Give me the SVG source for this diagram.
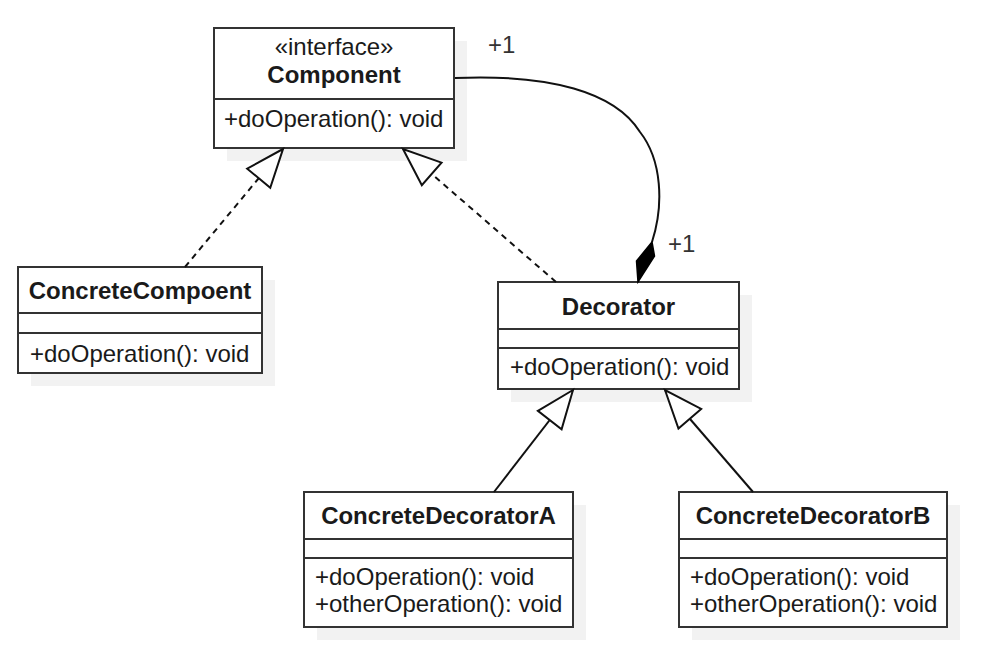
<svg xmlns="http://www.w3.org/2000/svg" width="996" height="659" viewBox="0 0 996 659">
  <style>
    .shadow { fill: #f2f2f2; stroke: none; }
    .box { fill: #ffffff; stroke: #333333; stroke-width: 2; }
    .sep { stroke: #333333; stroke-width: 2; fill: none; }
    .title { font-family: "Liberation Sans", Arial, sans-serif; font-size: 24px; font-weight: bold; fill: #1a1a1a; text-anchor: middle; }
    .stereo { font-family: "Liberation Sans", Arial, sans-serif; font-size: 24px; fill: #1a1a1a; text-anchor: middle; }
    .member { font-family: "Liberation Sans", Arial, sans-serif; font-size: 24px; fill: #1a1a1a; }
    .mult { font-family: "Liberation Sans", Arial, sans-serif; font-size: 24px; fill: #333333; }
    .edge { fill: none; stroke: #111111; stroke-width: 2; }
    .dashed { stroke-dasharray: 6 5; }
  </style>
  <defs>
    <!-- hollow triangle head for realization / generalization -->
    <marker id="hollowTri" viewBox="-42 -20 46 40" markerWidth="46" markerHeight="40" refX="0" refY="0" orient="auto" markerUnits="userSpaceOnUse">
      <path d="M0,0 L-38,-15 L-38,15 Z" fill="#ffffff" stroke="#111111" stroke-width="2" stroke-dasharray="none" stroke-linejoin="miter"/>
    </marker>
  </defs>

  <rect width="996" height="659" fill="#ffffff"/>

  <!-- Component (interface) -->
  <g id="component">
    <rect class="shadow" x="227" y="41" width="240" height="120"/>
    <rect class="box" x="214" y="28" width="240" height="120"/>
    <line class="sep" x1="214" y1="99" x2="454" y2="99"/>
    <text class="stereo" x="334" y="55">«interface»</text>
    <text class="title" x="334" y="83">Component</text>
    <text class="member" x="224" y="127">+doOperation(): void</text>
  </g>

  <!-- ConcreteCompoent -->
  <g id="concrete-component">
    <rect class="shadow" x="31" y="280" width="244" height="106"/>
    <rect class="box" x="18" y="267" width="244" height="106"/>
    <line class="sep" x1="18" y1="313" x2="262" y2="313"/>
    <line class="sep" x1="18" y1="333" x2="262" y2="333"/>
    <text class="title" x="140" y="299">ConcreteCompoent</text>
    <text class="member" x="30" y="362">+doOperation(): void</text>
  </g>

  <!-- Decorator -->
  <g id="decorator">
    <rect class="shadow" x="511" y="295" width="241" height="107"/>
    <rect class="box" x="498" y="282" width="241" height="107"/>
    <line class="sep" x1="498" y1="329" x2="739" y2="329"/>
    <line class="sep" x1="498" y1="348" x2="739" y2="348"/>
    <text class="title" x="618.5" y="315">Decorator</text>
    <text class="member" x="510" y="375">+doOperation(): void</text>
  </g>

  <!-- ConcreteDecoratorA -->
  <g id="concrete-decorator-a">
    <rect class="shadow" x="317" y="505" width="269" height="135"/>
    <rect class="box" x="304" y="492" width="269" height="135"/>
    <line class="sep" x1="304" y1="539" x2="573" y2="539"/>
    <line class="sep" x1="304" y1="558" x2="573" y2="558"/>
    <text class="title" x="438.5" y="524">ConcreteDecoratorA</text>
    <text class="member" x="315" y="585">+doOperation(): void</text>
    <text class="member" x="315" y="612">+otherOperation(): void</text>
  </g>

  <!-- ConcreteDecoratorB -->
  <g id="concrete-decorator-b">
    <rect class="shadow" x="692" y="505" width="268" height="135"/>
    <rect class="box" x="679" y="492" width="268" height="135"/>
    <line class="sep" x1="679" y1="539" x2="947" y2="539"/>
    <line class="sep" x1="679" y1="558" x2="947" y2="558"/>
    <text class="title" x="813" y="524">ConcreteDecoratorB</text>
    <text class="member" x="690" y="585">+doOperation(): void</text>
    <text class="member" x="690" y="612">+otherOperation(): void</text>
  </g>

  <!-- Connectors -->
  <g id="connectors">
    <!-- realizations of Component -->
    <path class="edge dashed" d="M185,267 L283,149" marker-end="url(#hollowTri)"/>
    <path class="edge dashed" d="M556,282 L403,149" marker-end="url(#hollowTri)"/>
    <!-- generalizations of Decorator -->
    <path class="edge" d="M494,492 L573,390" marker-end="url(#hollowTri)"/>
    <path class="edge" d="M753,492 L665,390" marker-end="url(#hollowTri)"/>
    <!-- composition: Decorator wraps a Component -->
    <path class="edge" d="M455,78 C550,74 615,92 640,132 C662,160 664,205 652,242"/>
    <polygon points="652,242 654.5,256 638,282 636.5,261" fill="#000000" stroke="#000000" stroke-width="1.5" stroke-linejoin="miter"/>
    <text class="mult" x="488" y="53">+1</text>
    <text class="mult" x="668" y="252">+1</text>
  </g>
</svg>
